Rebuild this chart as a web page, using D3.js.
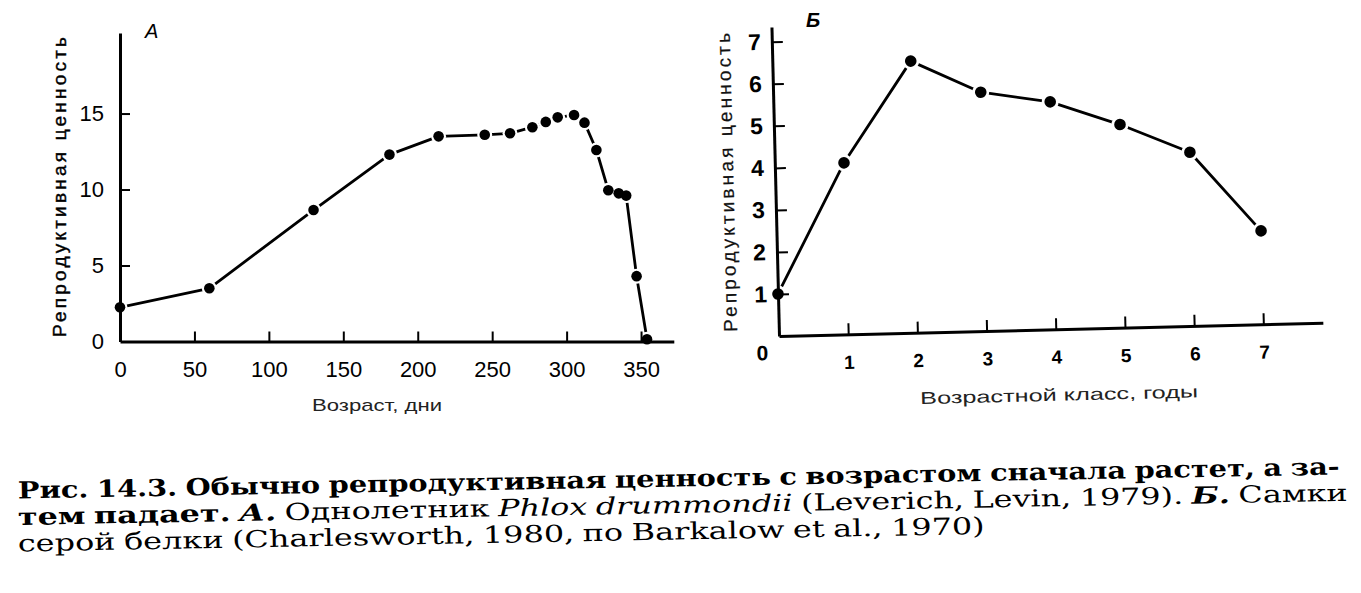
<!DOCTYPE html>
<html><head><meta charset="utf-8">
<script src="https://cdn.jsdelivr.net/npm/d3@7"></script>
<style>
body{margin:0;background:#fff}
svg{display:block}
</style></head><body>
<svg id="c" width="1361" height="593"></svg>
<script>
// ---- Panel A: Phlox drummondii ----
const ageDaysA = [0, 60, 130, 181, 214, 245, 262, 277, 286, 294, 305, 312, 320, 328, 335, 340, 347, 354];
const valueA   = [2.25, 3.5, 8.65, 12.3, 13.5, 13.6, 13.7, 14.1, 14.45, 14.75, 14.9, 14.4, 12.6, 9.95, 9.75, 9.6, 4.3, 0.15];
const xTicksA  = [0, 50, 100, 150, 200, 250, 300, 350];
const yTicksA  = [0, 5, 10, 15];
const panelLabelA = "А";
const xTitleA = "Возраст, дни";
const yTitle = "Репродуктивная ценность";

// ---- Panel B: grey squirrel females ----
const ageClassB = [0, 1, 2, 3, 4, 5, 6, 7];
const valueB    = [1.0, 4.08, 6.46, 5.68, 5.41, 4.83, 4.13, 2.22];
const xTicksB   = [1, 2, 3, 4, 5, 6, 7];
const yTicksB   = [1, 2, 3, 4, 5, 6, 7];
const panelLabelB = "Б";
const xTitleB = "Возрастной класс, годы";
const originLabelB = "0";

// ---- Caption ----
const captionLine1 = [{t:"Рис. 14.3. Обычно репродуктивная ценность с возрастом сначала растет, а за-", w:"bold", s:"normal"}];
const captionLine2 = [
  {t:"тем падает.", w:"bold", s:"normal"},
  {t:"А.", w:"bold", s:"italic"},
  {t:"Однолетник", w:"normal", s:"normal"},
  {t:"Phlox drummondii", w:"normal", s:"italic"},
  {t:"(Leverich, Levin, 1979).", w:"normal", s:"normal"},
  {t:"Б.", w:"bold", s:"italic"},
  {t:"Самки", w:"normal", s:"normal"}
];
const captionLine3 = [{t:"серой белки (Charlesworth, 1980, по Barkalow et al., 1970)", w:"normal", s:"normal"}];

const svg = d3.select('#c');
svg.append('rect').attr('width',1361).attr('height',593).attr('fill','#fff');

function styleAxis(g, font, size, weight){
  g.select('.domain').attr('stroke','#000').attr('stroke-width',3);
  g.selectAll('.tick line').attr('stroke','#000').attr('stroke-width',2);
  g.selectAll('.tick text').attr('fill','#000').attr('font-family',font).attr('font-size',size).attr('font-weight',weight);
}

// ================= Panel A =================
const gA = svg.append('g').attr('transform','translate(120,341.5)');
const xA = d3.scaleLinear().domain([0,372]).range([0,553.8]);
const yA = d3.scaleLinear().domain([0,20.3]).range([0,-308.5]);
const ptsA = ageDaysA.map((d,i)=>[d, valueA[i]]);
gA.append('path').datum(ptsA)
  .attr('d', d3.line().x(d=>xA(d[0])).y(d=>yA(d[1])))
  .attr('fill','none').attr('stroke','#000').attr('stroke-width',2.8).attr('stroke-linejoin','round');
gA.selectAll('circle.halo').data(ptsA).join('circle').attr('class','halo')
  .attr('cx',d=>xA(d[0])).attr('cy',d=>yA(d[1])).attr('r',7.5).attr('fill','#fff');
const axAx = gA.append('g').call(d3.axisBottom(xA).tickValues(xTicksA).tickFormat(d3.format('d')).tickSizeInner(-10).tickSizeOuter(0).tickPadding(20));
styleAxis(axAx, '"Liberation Sans Narrow","Arial Narrow","Liberation Sans",sans-serif', 22, 'normal');
const ayA = gA.append('g').call(d3.axisLeft(yA).tickValues(yTicksA).tickFormat(d3.format('d')).tickSizeInner(-10).tickSizeOuter(0).tickPadding(16));
styleAxis(ayA, '"Liberation Sans Narrow","Arial Narrow","Liberation Sans",sans-serif', 22, 'normal');
ayA.selectAll('.tick').filter(d=>d===0).select('line').remove();
axAx.selectAll('.tick').filter(d=>d===0).select('line').remove();
gA.selectAll('circle.dot').data(ptsA).join('circle').attr('class','dot')
  .attr('cx',d=>xA(d[0])).attr('cy',d=>yA(d[1])).attr('r',5.3).attr('fill','#000');
svg.append('text').text(panelLabelA).attr('x',145).attr('y',38)
  .attr('font-family','"Liberation Sans",sans-serif').attr('font-style','italic').attr('font-size',20).attr('fill','#000');
svg.append('text').text(xTitleA).attr('x',377).attr('y',411).attr('text-anchor','middle')
  .attr('font-family','"Liberation Sans",sans-serif').attr('font-size',17).attr('fill','#222')
  .attr('textLength',130).attr('lengthAdjust','spacingAndGlyphs');
svg.append('text').text(yTitle).attr('transform','translate(59,187) rotate(-90)').attr('dy','0.35em')
  .attr('text-anchor','middle').attr('font-family','"Liberation Sans",sans-serif').attr('font-size',19)
  .attr('fill','#000').attr('stroke','#000').attr('stroke-width',0.4)
  .attr('textLength',300).attr('lengthAdjust','spacing');

// ================= Panel B =================
const gB = svg.append('g').attr('transform','translate(779,336) rotate(-1.4)');
const xB = d3.scaleLinear().domain([0,7.86]).range([0,544]);
const yB = d3.scaleLinear().domain([0,7.35]).range([0,-309]);
const ptsB = ageClassB.map((d,i)=>[d, valueB[i]]);
gB.append('path').datum(ptsB)
  .attr('d', d3.line().x(d=>xB(d[0])).y(d=>yB(d[1])))
  .attr('fill','none').attr('stroke','#000').attr('stroke-width',2.8).attr('stroke-linejoin','round');
gB.selectAll('circle.halo').data(ptsB).join('circle').attr('class','halo')
  .attr('cx',d=>xB(d[0])).attr('cy',d=>yB(d[1])).attr('r',8.5).attr('fill','#fff');
const axB = gB.append('g').call(d3.axisBottom(xB).tickValues(xTicksB).tickFormat(d3.format('d')).tickSizeInner(-11).tickSizeOuter(0).tickPadding(21));
styleAxis(axB, '"Liberation Sans",sans-serif', 19, 'bold');
const ayB = gB.append('g').call(d3.axisLeft(yB).tickValues(yTicksB).tickFormat(d3.format('d')).tickSizeInner(-11).tickSizeOuter(0).tickPadding(11));
styleAxis(ayB, '"Liberation Sans",sans-serif', 23, 'bold');
gB.selectAll('circle.dot').data(ptsB).join('circle').attr('class','dot')
  .attr('cx',d=>xB(d[0])).attr('cy',d=>yB(d[1])).attr('r',5.8).attr('fill','#000');
gB.append('text').text(originLabelB).attr('x',xB(0)-17).attr('y',yB(0)+24)
  .attr('text-anchor','middle').attr('font-family','"Liberation Sans",sans-serif').attr('font-weight','bold').attr('font-size',21).attr('fill','#000');
gB.append('text').text(xTitleB).attr('x',278.6).attr('y',65.6).attr('dy','0.35em').attr('text-anchor','middle')
  .attr('font-family','"Liberation Sans",sans-serif').attr('font-size',17).attr('fill','#222')
  .attr('textLength',278).attr('lengthAdjust','spacingAndGlyphs');
gB.append('text').text(yTitle).attr('transform','translate(-48.4,-154.7) rotate(-90)').attr('dy','0.35em')
  .attr('text-anchor','middle').attr('font-family','"Liberation Sans",sans-serif').attr('font-size',19)
  .attr('fill','#111').attr('stroke','#111').attr('stroke-width',0.2)
  .attr('textLength',299).attr('lengthAdjust','spacing');
svg.append('text').text(panelLabelB).attr('x',806).attr('y',27)
  .attr('font-family','"Liberation Sans",sans-serif').attr('font-style','italic').attr('font-weight','bold').attr('font-size',20).attr('fill','#000');

// ================= Caption (slightly tilted like the scan) =================
const tiltDeg = -1.04, tilt = tiltDeg*Math.PI/180;
const capFont = '"DejaVu Serif","Liberation Serif",serif';
const capSize = 23.5;
function drawCaptionLine(segs, x0, y0, len){
  const words = [];
  segs.forEach(s => s.t.split(' ').filter(w=>w.length).forEach(w => words.push({w, weight:s.w, style:s.s})));
  const nodes = words.map(o => svg.append('text').text(o.w)
    .attr('font-family',capFont).attr('font-size',capSize).attr('fill','#000')
    .attr('font-weight',o.weight).attr('font-style',o.style));
  const widths = nodes.map(n => n.node().getComputedTextLength());
  const space = capSize*0.36;
  const total = d3.sum(widths);
  let sx = (len - space*(words.length-1))/total;
  sx = Math.max(0.82, Math.min(1.45, sx));
  const gap = (len - total*sx)/(words.length-1);
  let x = 0;
  nodes.forEach((n,i) => {
    const px = x0 + x*Math.cos(tilt), py = y0 + x*Math.sin(tilt);
    n.attr('transform', `translate(${px.toFixed(2)},${py.toFixed(2)}) rotate(${tiltDeg}) scale(${sx.toFixed(4)},1)`);
    x += widths[i]*sx + gap;
  });
}
drawCaptionLine(captionLine1, 18, 498.5, 1322);
drawCaptionLine(captionLine2, 18, 525, 1330);
drawCaptionLine(captionLine3, 18, 551.5, 967);
</script>
</body></html>
